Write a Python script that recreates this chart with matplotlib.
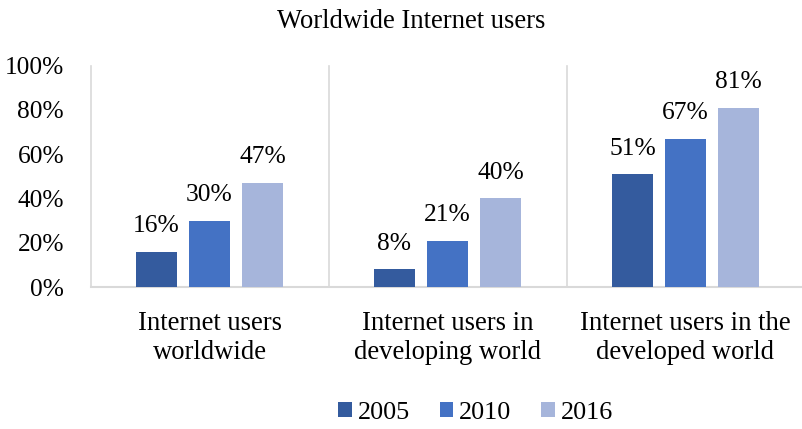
import matplotlib
matplotlib.use("Agg")
import matplotlib.pyplot as plt
from matplotlib.patches import Patch
import numpy as np

categories = ["Internet users\nworldwide", "Internet users in\ndeveloping world",
              "Internet users in the\ndeveloped world"]
years = ["2005", "2010", "2016"]
values_2005 = [16, 8, 51]
values_2010 = [30, 21, 67]
values_2016 = [47, 40, 81]
values = {"2005": values_2005, "2010": values_2010, "2016": values_2016}
colors = {"2005": "#345B9E", "2010": "#4472C4", "2016": "#A6B5DB"}
yticks = [0, 20, 40, 60, 80, 100]
ytick_labels = ["0%", "20%", "40%", "60%", "80%", "100%"]

plt.rcParams["font.family"] = ["Liberation Serif", "DejaVu Serif"]

fig = plt.figure(figsize=(8.02, 4.29), dpi=100)
ax = fig.add_axes([90.5 / 802, 142 / 429, (802 - 90.5) / 802, 221.3 / 429])

x = np.arange(len(categories))
width = 0.1723
step = 0.2227
for i, yr in enumerate(years):
    xs = x + (i - 1) * step
    bars = ax.bar(xs, values[yr], width=width, color=colors[yr], zorder=3)
    for b, v in zip(bars, values[yr]):
        ax.annotate(f"{v}%", (b.get_x() + b.get_width() / 2, v),
                    xytext=(0, 10.5), textcoords="offset points",
                    ha="center", va="bottom", fontsize=18.4, color="#000000")

grid_color = "#D9D9D9"
for sep in [-0.5, 0.5, 1.5, 2.5]:
    ax.plot([sep, sep], [0, 100], color=grid_color, lw=1.2, zorder=1, clip_on=False)

ax.set_xlim(-0.5, -0.5 + (802 - 90.5) / 238)
ax.set_ylim(0, 100)
ax.set_yticks(yticks)
ax.set_yticklabels(ytick_labels, fontsize=18.3)
ax.set_xticks(x)
ax.set_xticklabels(categories, fontsize=19.2, linespacing=1.2)
ax.tick_params(axis="y", length=0, pad=19)
ax.tick_params(axis="x", length=0, pad=17.5)
for side in ["top", "right", "left"]:
    ax.spines[side].set_visible(False)
ax.spines["bottom"].set_color(grid_color)
ax.spines["bottom"].set_linewidth(1.5)

fig.text(411.5 / 802, 1 - 21 / 429, "Worldwide Internet users",
         ha="center", va="center", fontsize=19.2)

handles = [Patch(facecolor=colors[yr], edgecolor="none") for yr in years]
fig.legend(handles, years, loc="center", bbox_to_anchor=(475.5 / 802, 1 - 413 / 429),
           ncol=3, frameon=False, fontsize=18.8, handlelength=0.52, handleheight=0.52,
           handletextpad=0.22, columnspacing=1.15)

fig.savefig("out.png", dpi=100)
